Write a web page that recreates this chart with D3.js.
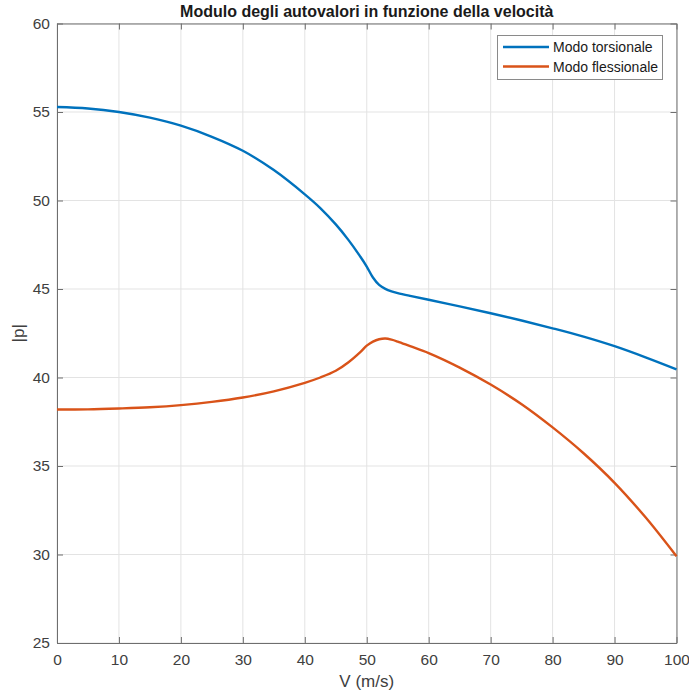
<!DOCTYPE html>
<html>
<head>
<meta charset="utf-8">
<script src="https://cdn.jsdelivr.net/npm/d3@7"></script>
<style>
  html, body { margin: 0; padding: 0; background: #fff; }
  svg { display: block; font-family: "Liberation Sans", Arial, Helvetica, sans-serif; }
</style>
</head>
<body>
<svg id="chart" width="689" height="695"></svg>
<script>
const velocity = [0, 5, 10, 15, 20, 25, 30, 35, 40, 42.5, 45, 47, 49, 50, 51, 52, 53, 54, 55, 57, 60, 65, 70, 75, 80, 85, 90, 95, 100];
const torsional = [55.28, 55.2, 55.0, 54.68, 54.23, 53.6, 52.81, 51.72, 50.35, 49.575, 48.65, 47.79, 46.81, 46.27, 45.65, 45.23, 45.01, 44.87, 44.77, 44.61, 44.39, 44.02, 43.63, 43.22, 42.78, 42.31, 41.77, 41.14, 40.46];
const flexional = [38.19, 38.2, 38.25, 38.32, 38.44, 38.62, 38.87, 39.22, 39.7, 40.0, 40.38, 40.85, 41.45, 41.8, 42.03, 42.16, 42.2, 42.14, 42.03, 41.77, 41.38, 40.56, 39.6, 38.49, 37.18, 35.72, 34.05, 32.1, 29.9];
const xTicks = [0, 10, 20, 30, 40, 50, 60, 70, 80, 90, 100];
const yTicks = [25, 30, 35, 40, 45, 50, 55, 60];
const seriesNames = ["Modo torsionale", "Modo flessionale"];
const seriesColors = ["#0072BD", "#D95319"];
const titleText = "Modulo degli autovalori in funzione della velocità";
const xLabel = "V (m/s)";
const yLabel = "|p|";

const svg = d3.select("#chart");
const m = { left: 57, top: 23.5, right: 676.5, bottom: 643 };
const x = d3.scaleLinear().domain([0, 100]).range([m.left, m.right]);
const y = d3.scaleLinear().domain([25, 60]).range([m.bottom, m.top]);

// grid
const grid = svg.append("g");
grid.selectAll(".gx").data(xTicks).enter().append("line")
  .attr("x1", d => x(d)).attr("x2", d => x(d)).attr("y1", m.top).attr("y2", m.bottom)
  .attr("stroke", "#e3e3e3").attr("stroke-width", 1);
grid.selectAll(".gy").data(yTicks).enter().append("line")
  .attr("y1", d => y(d)).attr("y2", d => y(d)).attr("x1", m.left).attr("x2", m.right)
  .attr("stroke", "#e3e3e3").attr("stroke-width", 1);

// axes
const axisColor = "#6e6e6e";
const tickLen = 6;
const xAxis = svg.append("g").attr("transform", `translate(0,${m.bottom})`)
  .call(d3.axisBottom(x).tickValues(xTicks).tickSizeInner(-tickLen).tickSizeOuter(0).tickPadding(11));
const yAxis = svg.append("g").attr("transform", `translate(${m.left},0)`)
  .call(d3.axisLeft(y).tickValues(yTicks).tickSizeInner(-tickLen).tickSizeOuter(0).tickPadding(7));
const xTop = svg.append("g").attr("transform", `translate(0,${m.top})`)
  .call(d3.axisTop(x).tickValues(xTicks).tickSizeInner(-tickLen).tickSizeOuter(0).tickFormat(""));
const yRight = svg.append("g").attr("transform", `translate(${m.right},0)`)
  .call(d3.axisRight(y).tickValues(yTicks).tickSizeInner(-tickLen).tickSizeOuter(0).tickFormat(""));
[xAxis, yAxis, xTop, yRight].forEach(a => {
  a.select(".domain").attr("stroke", axisColor);
  a.selectAll(".tick line").attr("stroke", axisColor);
  a.selectAll("text").attr("fill", "#404040").style("font-size", "15.5px")
    .style("font-family", "'Liberation Sans', Arial, sans-serif");
});

// lines
const line = d3.line().x((d, i) => x(velocity[i])).y(d => y(d)).curve(d3.curveCatmullRom.alpha(0.5));
[torsional, flexional].forEach((s, k) => {
  svg.append("path").datum(s).attr("d", line).attr("fill", "none")
    .attr("stroke", seriesColors[k]).attr("stroke-width", 2.4);
});

// title and labels
svg.append("text").attr("x", (m.left + m.right) / 2).attr("y", 17).attr("text-anchor", "middle")
  .style("font-size", "16px").style("font-weight", "bold").attr("fill", "#1a1a1a").text(titleText);
svg.append("text").attr("x", (m.left + m.right) / 2).attr("y", 687).attr("text-anchor", "middle")
  .style("font-size", "17px").attr("fill", "#404040").text(xLabel);
svg.append("text").attr("transform", `translate(24,${(m.top + m.bottom) / 2}) rotate(-90)`)
  .attr("text-anchor", "middle").style("font-size", "17px").attr("fill", "#404040").text(yLabel);

// legend
const lg = svg.append("g");
lg.append("rect").attr("x", 497.5).attr("y", 35.5).attr("width", 165).attr("height", 44)
  .attr("fill", "#fff").attr("stroke", "#8a8a8a").attr("stroke-width", 1);
seriesNames.forEach((n, k) => {
  const yy = 47 + k * 19.5;
  lg.append("line").attr("x1", 503).attr("x2", 549).attr("y1", yy).attr("y2", yy)
    .attr("stroke", seriesColors[k]).attr("stroke-width", 2.4);
  lg.append("text").attr("x", 553).attr("y", yy + 5).style("font-size", "14px")
    .attr("fill", "#1a1a1a").text(n);
});
</script>
</body>
</html>
